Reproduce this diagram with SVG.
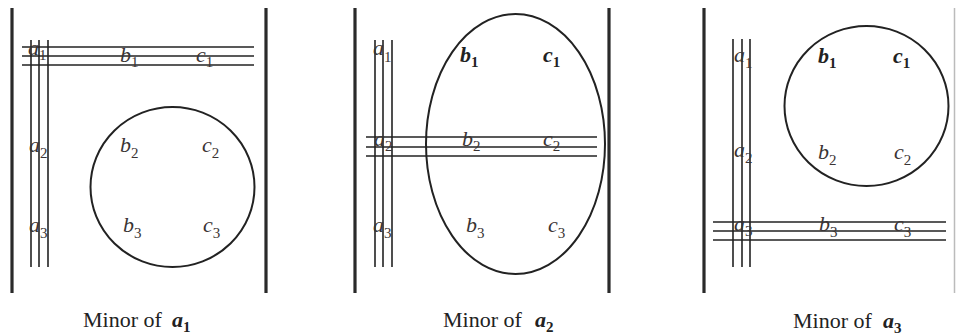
<svg xmlns="http://www.w3.org/2000/svg" width="956" height="335" viewBox="0 0 956 335">
<style>
.bar{stroke:#2a2a2a;stroke-width:3.2;fill:none}
.ln{stroke:#222;stroke-width:1.6;fill:none}
.sh{stroke:#222;stroke-width:2;fill:none}
.lb{font-family:'Liberation Serif',serif;font-size:22px;font-style:italic;fill:#3a3434}
.bd{font-weight:bold;fill:#222}
.sb{font-size:15px;font-style:normal}
.cap{font-family:'Liberation Serif',serif;font-size:22px;fill:#222}
.ca{font-style:italic;font-weight:bold}
.cs{font-size:15px;font-weight:bold}
</style>
<rect width="956" height="335" fill="#fff"/>

<g id="panel1">
  <line class="bar" x1="12" y1="8" x2="12" y2="293"/>
  <line class="bar" x1="266" y1="8" x2="266" y2="293"/>
  <g id="p1-row1">
    <line class="ln" x1="22" y1="47" x2="254" y2="47"/>
    <line class="ln" x1="22" y1="56" x2="254" y2="56"/>
    <line class="ln" x1="22" y1="65" x2="254" y2="65"/>
  </g>
  <g id="p1-col">
    <line class="ln" x1="31" y1="40" x2="31" y2="267"/>
    <line class="ln" x1="39" y1="40" x2="39" y2="267"/>
    <line class="ln" x1="48" y1="40" x2="48" y2="267"/>
  </g>
  <ellipse id="p1-minor" class="sh" cx="172.5" cy="187" rx="82" ry="80"/>
  <text class="lb" x="28" y="55">a<tspan class="sb" dy="5">1</tspan></text>
  <text class="lb" x="120" y="62">b<tspan class="sb" dy="5">1</tspan></text>
  <text class="lb" x="196" y="62">c<tspan class="sb" dy="5">1</tspan></text>
  <text class="lb" x="29" y="152">a<tspan class="sb" dy="6">2</tspan></text>
  <text class="lb" x="120" y="152">b<tspan class="sb" dy="6">2</tspan></text>
  <text class="lb" x="202" y="152">c<tspan class="sb" dy="6">2</tspan></text>
  <text class="lb" x="29" y="232">a<tspan class="sb" dy="6">3</tspan></text>
  <text class="lb" x="123" y="232">b<tspan class="sb" dy="6">3</tspan></text>
  <text class="lb" x="203" y="232">c<tspan class="sb" dy="6">3</tspan></text>
  <text class="cap" x="83" y="327">Minor of <tspan class="ca" x="172">a</tspan><tspan class="cs" dy="5">1</tspan></text>
</g>

<g id="panel2">
  <line class="bar" x1="355" y1="8" x2="355" y2="293"/>
  <line class="bar" x1="609" y1="8" x2="609" y2="293"/>
  <g id="p2-col">
    <line class="ln" x1="375" y1="40" x2="375" y2="267"/>
    <line class="ln" x1="383" y1="40" x2="383" y2="267"/>
    <line class="ln" x1="392" y1="40" x2="392" y2="267"/>
  </g>
  <g id="p2-row2">
    <line class="ln" x1="366" y1="137" x2="597" y2="137"/>
    <line class="ln" x1="366" y1="147" x2="597" y2="147"/>
    <line class="ln" x1="366" y1="156" x2="597" y2="156"/>
  </g>
  <ellipse id="p2-minor" class="sh" cx="515.5" cy="144" rx="89.5" ry="130"/>
  <text class="lb" x="373" y="55">a<tspan class="sb" dy="7">1</tspan></text>
  <text class="lb bd" x="460" y="62">b<tspan class="sb" dy="5">1</tspan></text>
  <text class="lb bd" x="543" y="62">c<tspan class="sb" dy="5">1</tspan></text>
  <text class="lb" x="374" y="146">a<tspan class="sb" dy="5">2</tspan></text>
  <text class="lb" x="462" y="146">b<tspan class="sb" dy="5">2</tspan></text>
  <text class="lb" x="543" y="146">c<tspan class="sb" dy="5">2</tspan></text>
  <text class="lb" x="373" y="232">a<tspan class="sb" dy="6">3</tspan></text>
  <text class="lb" x="466" y="232">b<tspan class="sb" dy="6">3</tspan></text>
  <text class="lb" x="548" y="232">c<tspan class="sb" dy="6">3</tspan></text>
  <text class="cap" x="443" y="327">Minor of <tspan class="ca" x="535">a</tspan><tspan class="cs" dy="5">2</tspan></text>
</g>

<g id="panel3">
  <line class="bar" x1="704" y1="8" x2="704" y2="293"/>
  <line x1="954.5" y1="8" x2="954.5" y2="293" stroke="#bbb" stroke-width="1.5"/>
  <g id="p3-col">
    <line class="ln" x1="733" y1="39" x2="733" y2="267"/>
    <line class="ln" x1="742" y1="39" x2="742" y2="267"/>
    <line class="ln" x1="750" y1="39" x2="750" y2="267"/>
  </g>
  <g id="p3-row3">
    <line class="ln" x1="713" y1="222" x2="946" y2="222"/>
    <line class="ln" x1="713" y1="231" x2="946" y2="231"/>
    <line class="ln" x1="713" y1="240" x2="946" y2="240"/>
  </g>
  <ellipse id="p3-minor" class="sh" cx="866.5" cy="106" rx="82" ry="80"/>
  <text class="lb" x="734" y="62">a<tspan class="sb" dy="6">1</tspan></text>
  <text class="lb bd" x="818" y="63">b<tspan class="sb" dy="5">1</tspan></text>
  <text class="lb bd" x="893" y="63">c<tspan class="sb" dy="5">1</tspan></text>
  <text class="lb" x="734" y="157">a<tspan class="sb" dy="6">2</tspan></text>
  <text class="lb" x="818" y="159">b<tspan class="sb" dy="6">2</tspan></text>
  <text class="lb" x="894" y="159">c<tspan class="sb" dy="6">2</tspan></text>
  <text class="lb" x="734" y="231">a<tspan class="sb" dy="5">3</tspan></text>
  <text class="lb" x="819" y="231">b<tspan class="sb" dy="6">3</tspan></text>
  <text class="lb" x="894" y="231">c<tspan class="sb" dy="6">3</tspan></text>
  <text class="cap" x="793" y="328">Minor of <tspan class="ca" x="883">a</tspan><tspan class="cs" dy="5">3</tspan></text>
</g>
</svg>
